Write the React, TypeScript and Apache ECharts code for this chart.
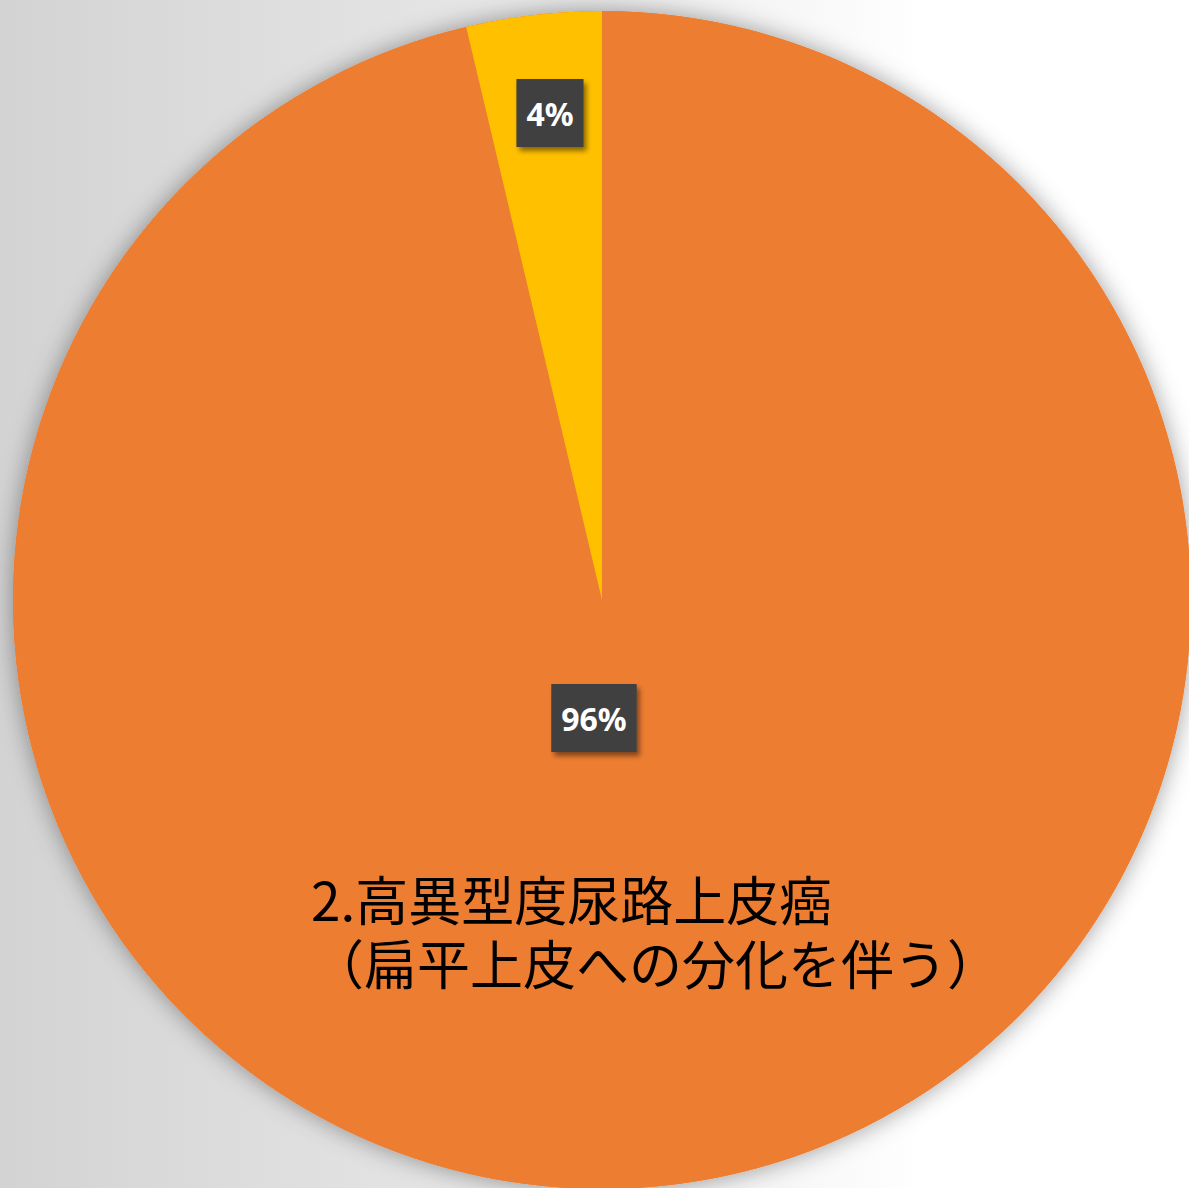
import React, { useEffect, useRef } from "react";
import * as echarts from "echarts";

const categories = [
  "2.高異型度尿路上皮癌\n（扁平上皮への分化を伴う）",
  "その他",
];
const values = [26, 1];
const colors = ["#ED7D31", "#FFC000"];
const showName = [true, false];

const W = 1189;
const H = 1188;
const CENTER = [602, 600];
const RADIUS = 589;
const PCT_POS = [
  [594, 718],
  [550, 113],
];
const NAME_POS = [311, 930];

export default function App() {
  const ref = useRef<HTMLDivElement>(null);
  useEffect(() => {
    if (!ref.current) return;
    const chart = echarts.init(ref.current, null, { renderer: "svg" });
    const total = values.reduce((a, b) => a + b, 0);
    const data = categories.map((name, i) => ({
      name,
      value: values[i],
      itemStyle: { color: colors[i] },
    }));
    chart.setOption({
      animation: false,
      backgroundColor: new echarts.graphic.LinearGradient(0, 0, 1, 0, [
        { offset: 0, color: "#d3d3d3" },
        { offset: 0.45, color: "#e8e8e8" },
        { offset: 0.78, color: "#ffffff" },
        { offset: 1, color: "#ffffff" },
      ]),
      series: [
        {
          type: "pie",
          silent: true,
          center: CENTER,
          radius: RADIUS,
          data: [{ name: "total", value: total }],
          itemStyle: {
            color: colors[0],
            shadowBlur: 24,
            shadowColor: "rgba(0,0,0,0.38)",
          },
          label: { show: false },
          labelLine: { show: false },
        },
        {
          type: "pie",
          silent: true,
          center: CENTER,
          radius: RADIUS,
          startAngle: 90,
          clockwise: true,
          avoidLabelOverlap: false,
          data,
          label: {
            show: true,
            position: "inside",
            formatter: (p: any) => Math.round(p.percent) + "%",
            color: "#ffffff",
            fontFamily: "Noto Sans",
            fontWeight: "bold",
            fontSize: 32,
            lineHeight: 34,
            backgroundColor: "#404040",
            padding: [17, 10, 17, 10],
            shadowColor: "rgba(0,0,0,0.45)",
            shadowBlur: 5,
            shadowOffsetX: 3,
            shadowOffsetY: 4,
          },
          labelLine: { show: false },
          labelLayout: (p: any) => ({
            x: PCT_POS[p.dataIndex][0],
            y: PCT_POS[p.dataIndex][1],
            align: "center",
            verticalAlign: "middle",
          }),
        },
        {
          type: "pie",
          silent: true,
          center: CENTER,
          radius: RADIUS,
          startAngle: 90,
          clockwise: true,
          avoidLabelOverlap: false,
          data: categories.map((name, i) => ({
            name,
            value: values[i],
            itemStyle: { color: "rgba(0,0,0,0)" },
          })),
          label: {
            show: true,
            position: "inside",
            formatter: (p: any) => (showName[p.dataIndex] ? p.name : ""),
            color: "#000000",
            fontFamily: "Noto Sans CJK JP",
            fontSize: 53,
            lineHeight: 64,
            align: "left",
          },
          labelLine: { show: false },
          labelLayout: () => ({
            x: NAME_POS[0],
            y: NAME_POS[1],
            align: "left",
            verticalAlign: "middle",
          }),
        },
      ],
    });
    return () => chart.dispose();
  }, []);
  return (
    <div
      ref={ref}
      style={{ position: "absolute", left: 0, top: 0, width: W, height: H }}
    />
  );
}
